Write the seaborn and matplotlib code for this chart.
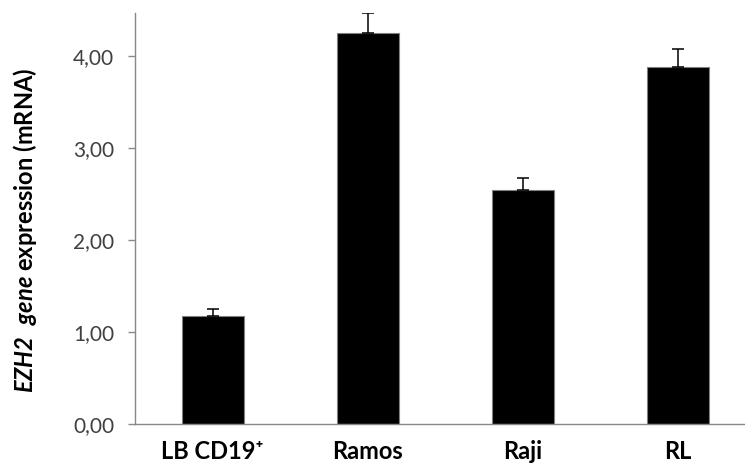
import seaborn as sns
import matplotlib.pyplot as plt
import pandas as pd

# values
cells = ["LB CD19\u207a", "Ramos", "Raji", "RL"]
expression = [1.18, 4.25, 2.55, 3.88]
error_up = [0.07, 0.22, 0.13, 0.20]
y_ticks = [0, 1, 2, 3, 4]
y_tick_labels = ["0,00", "1,00", "2,00", "3,00", "4,00"]

sns.set_style("white")
plt.rcParams['font.family'] = ['Lato', 'DejaVu Sans']
plt.rcParams['mathtext.fontset'] = 'custom'
plt.rcParams['mathtext.rm'] = 'Lato'
plt.rcParams['mathtext.bf'] = 'Lato:bold'
plt.rcParams['mathtext.it'] = 'Lato:italic'
plt.rcParams['mathtext.bfit'] = 'Lato:italic:bold'

df = pd.DataFrame({"cell": cells, "value": expression})

fig = plt.figure(figsize=(7.45, 4.68), dpi=100)
ax = fig.add_axes([135 / 745, 44 / 468, 610 / 745, 411 / 468])

sns.barplot(data=df, x="cell", y="value", color="black", width=0.4,
            edgecolor="#808080", linewidth=0.8, saturation=1, ax=ax)
for patch in ax.patches:
    patch.set_facecolor("black")

ax.errorbar(range(len(cells)), expression,
            yerr=[[0] * len(cells), error_up],
            fmt="none", ecolor="black", elinewidth=1.1,
            capsize=4.5, capthick=1.1)

ax.set_xlim(-0.5, -0.5 + 610 / 155)
ax.set_ylim(0, 4.47)
ax.set_yticks(y_ticks)
ax.set_yticklabels(y_tick_labels)

ax.tick_params(axis="y", left=True, length=5, width=1, color="#888888",
               labelsize=15, labelcolor="#404040", pad=10)
ax.tick_params(axis="x", bottom=False, labelsize=17, pad=8)
for lbl in ax.get_xticklabels():
    lbl.set_fontweight("bold")
    lbl.set_color("black")

for side in ["top", "right"]:
    ax.spines[side].set_visible(False)
for side in ["left", "bottom"]:
    ax.spines[side].set_color("#888888")
    ax.spines[side].set_linewidth(1)

ax.set_xlabel("")
ax.set_ylabel(r"$\mathbfit{EZH2\ \ gene}$ expression (mRNA)",
              fontsize=17, fontweight="bold", color="black")
ax.yaxis.set_label_coords(-0.158, 0.472)

fig.savefig("out.png", dpi=100)
